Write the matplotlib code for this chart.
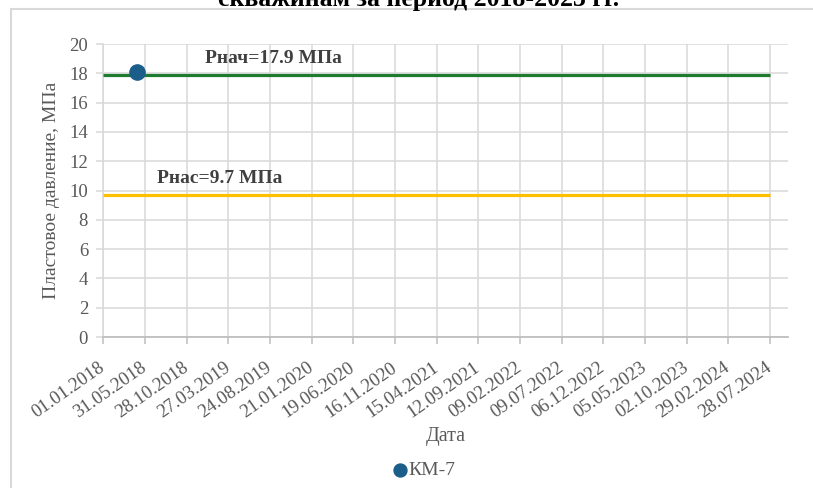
import numpy as np
import matplotlib
matplotlib.use("Agg")
import matplotlib.pyplot as plt
from matplotlib.patches import Rectangle
from datetime import datetime, timedelta

plt.rcParams['font.family'] = ['Liberation Serif', 'DejaVu Serif']

# даты подписей оси X (шаг 150 сут)
tick_labels = ['01.01.2018', '31.05.2018', '28.10.2018', '27.03.2019', '24.08.2019',
               '21.01.2020', '19.06.2020', '16.11.2020', '15.04.2021', '12.09.2021',
               '09.02.2022', '09.07.2022', '06.12.2022', '05.05.2023', '02.10.2023',
               '29.02.2024', '28.07.2024']

# замер по скважине КМ-7
well_name = 'КМ-7'
well_dates = ['01.05.2018']
well_pressure = [18.1]

# начальное пластовое давление и давление насыщения, МПа
p_init = 17.9
p_sat = 9.7
line_dates = ['01.01.2018', '28.07.2024']

def to_dt(s):
    return datetime.strptime(s, '%d.%m.%Y')

ticks = [to_dt(s) for s in tick_labels]
wd = [to_dt(s) for s in well_dates]
ld = [to_dt(s) for s in line_dates]

fig = plt.figure(figsize=(8.13, 4.88), dpi=100)
ax = fig.add_axes([0.1271, 0.3094, 0.8421, 0.6004])

grid_c = '#d9d9d9'
txt_c = '#595959'

ax.plot(ld, [p_init, p_init], color='#1e7b30', lw=2.3, solid_capstyle='butt', zorder=3)
ax.plot(ld, [p_sat, p_sat], color='#ffc000', lw=2.3, solid_capstyle='butt', zorder=3)
sc = ax.scatter(wd, well_pressure, s=120, color='#1b5e8a', zorder=4, label=well_name)

ax.text(to_dt('03.01.2019'), 19.0, 'Рнач=17.9 МПа', fontsize=14, fontweight='bold',
        color='#404040', va='center')
ax.text(to_dt('14.07.2018'), 10.8, 'Рнас=9.7 МПа', fontsize=14, fontweight='bold',
        color='#404040', va='center')

ax.set_xlim(ticks[0], ticks[0] + timedelta(days=2465))
ax.set_ylim(0, 20)
ax.set_yticks(np.arange(0, 21, 2))
ax.set_xticks(ticks)
ax.set_xticklabels(tick_labels, rotation=35, ha='right', va='center',
                   rotation_mode='anchor')

ax.grid(True, color=grid_c, lw=1.1)
ax.set_axisbelow(True)
for s in ['top', 'right']:
    ax.spines[s].set_visible(False)
ax.spines['left'].set_color(grid_c)
ax.spines['left'].set_linewidth(1.1)
ax.spines['bottom'].set_color('#bfbfbf')
ax.spines['bottom'].set_linewidth(1.3)
ax.tick_params(axis='x', colors='#bfbfbf', labelcolor=txt_c, labelsize=13.5,
               length=5, width=1.1, pad=16)
ax.tick_params(axis='y', colors=grid_c, labelcolor=txt_c, labelsize=13.5,
               length=5, width=1.1, pad=6)

ax.set_xlabel('Дата', fontsize=14.5, color=txt_c, labelpad=4)
ax.set_ylabel('Пластовое давление, МПа', fontsize=14, color=txt_c, labelpad=7)

ax.legend(handles=[sc], loc='center', bbox_to_anchor=(0.52, 0.036),
          bbox_transform=fig.transFigure, frameon=False, fontsize=14,
          handlelength=1.0, handletextpad=-0.1, markerscale=0.85, labelcolor=txt_c)

fig.text(0.515, 0.978, 'скважинам за период 2018-2023 гг.', fontsize=18.5,
         fontweight='bold', ha='center', va='bottom', color='black')

fig.patches.append(Rectangle((11 / 813, -0.1), 1.2, 1.1 - 9 / 488, transform=fig.transFigure,
                             fill=False, edgecolor=grid_c, lw=1.5))

fig.savefig('out.png', dpi=100)
